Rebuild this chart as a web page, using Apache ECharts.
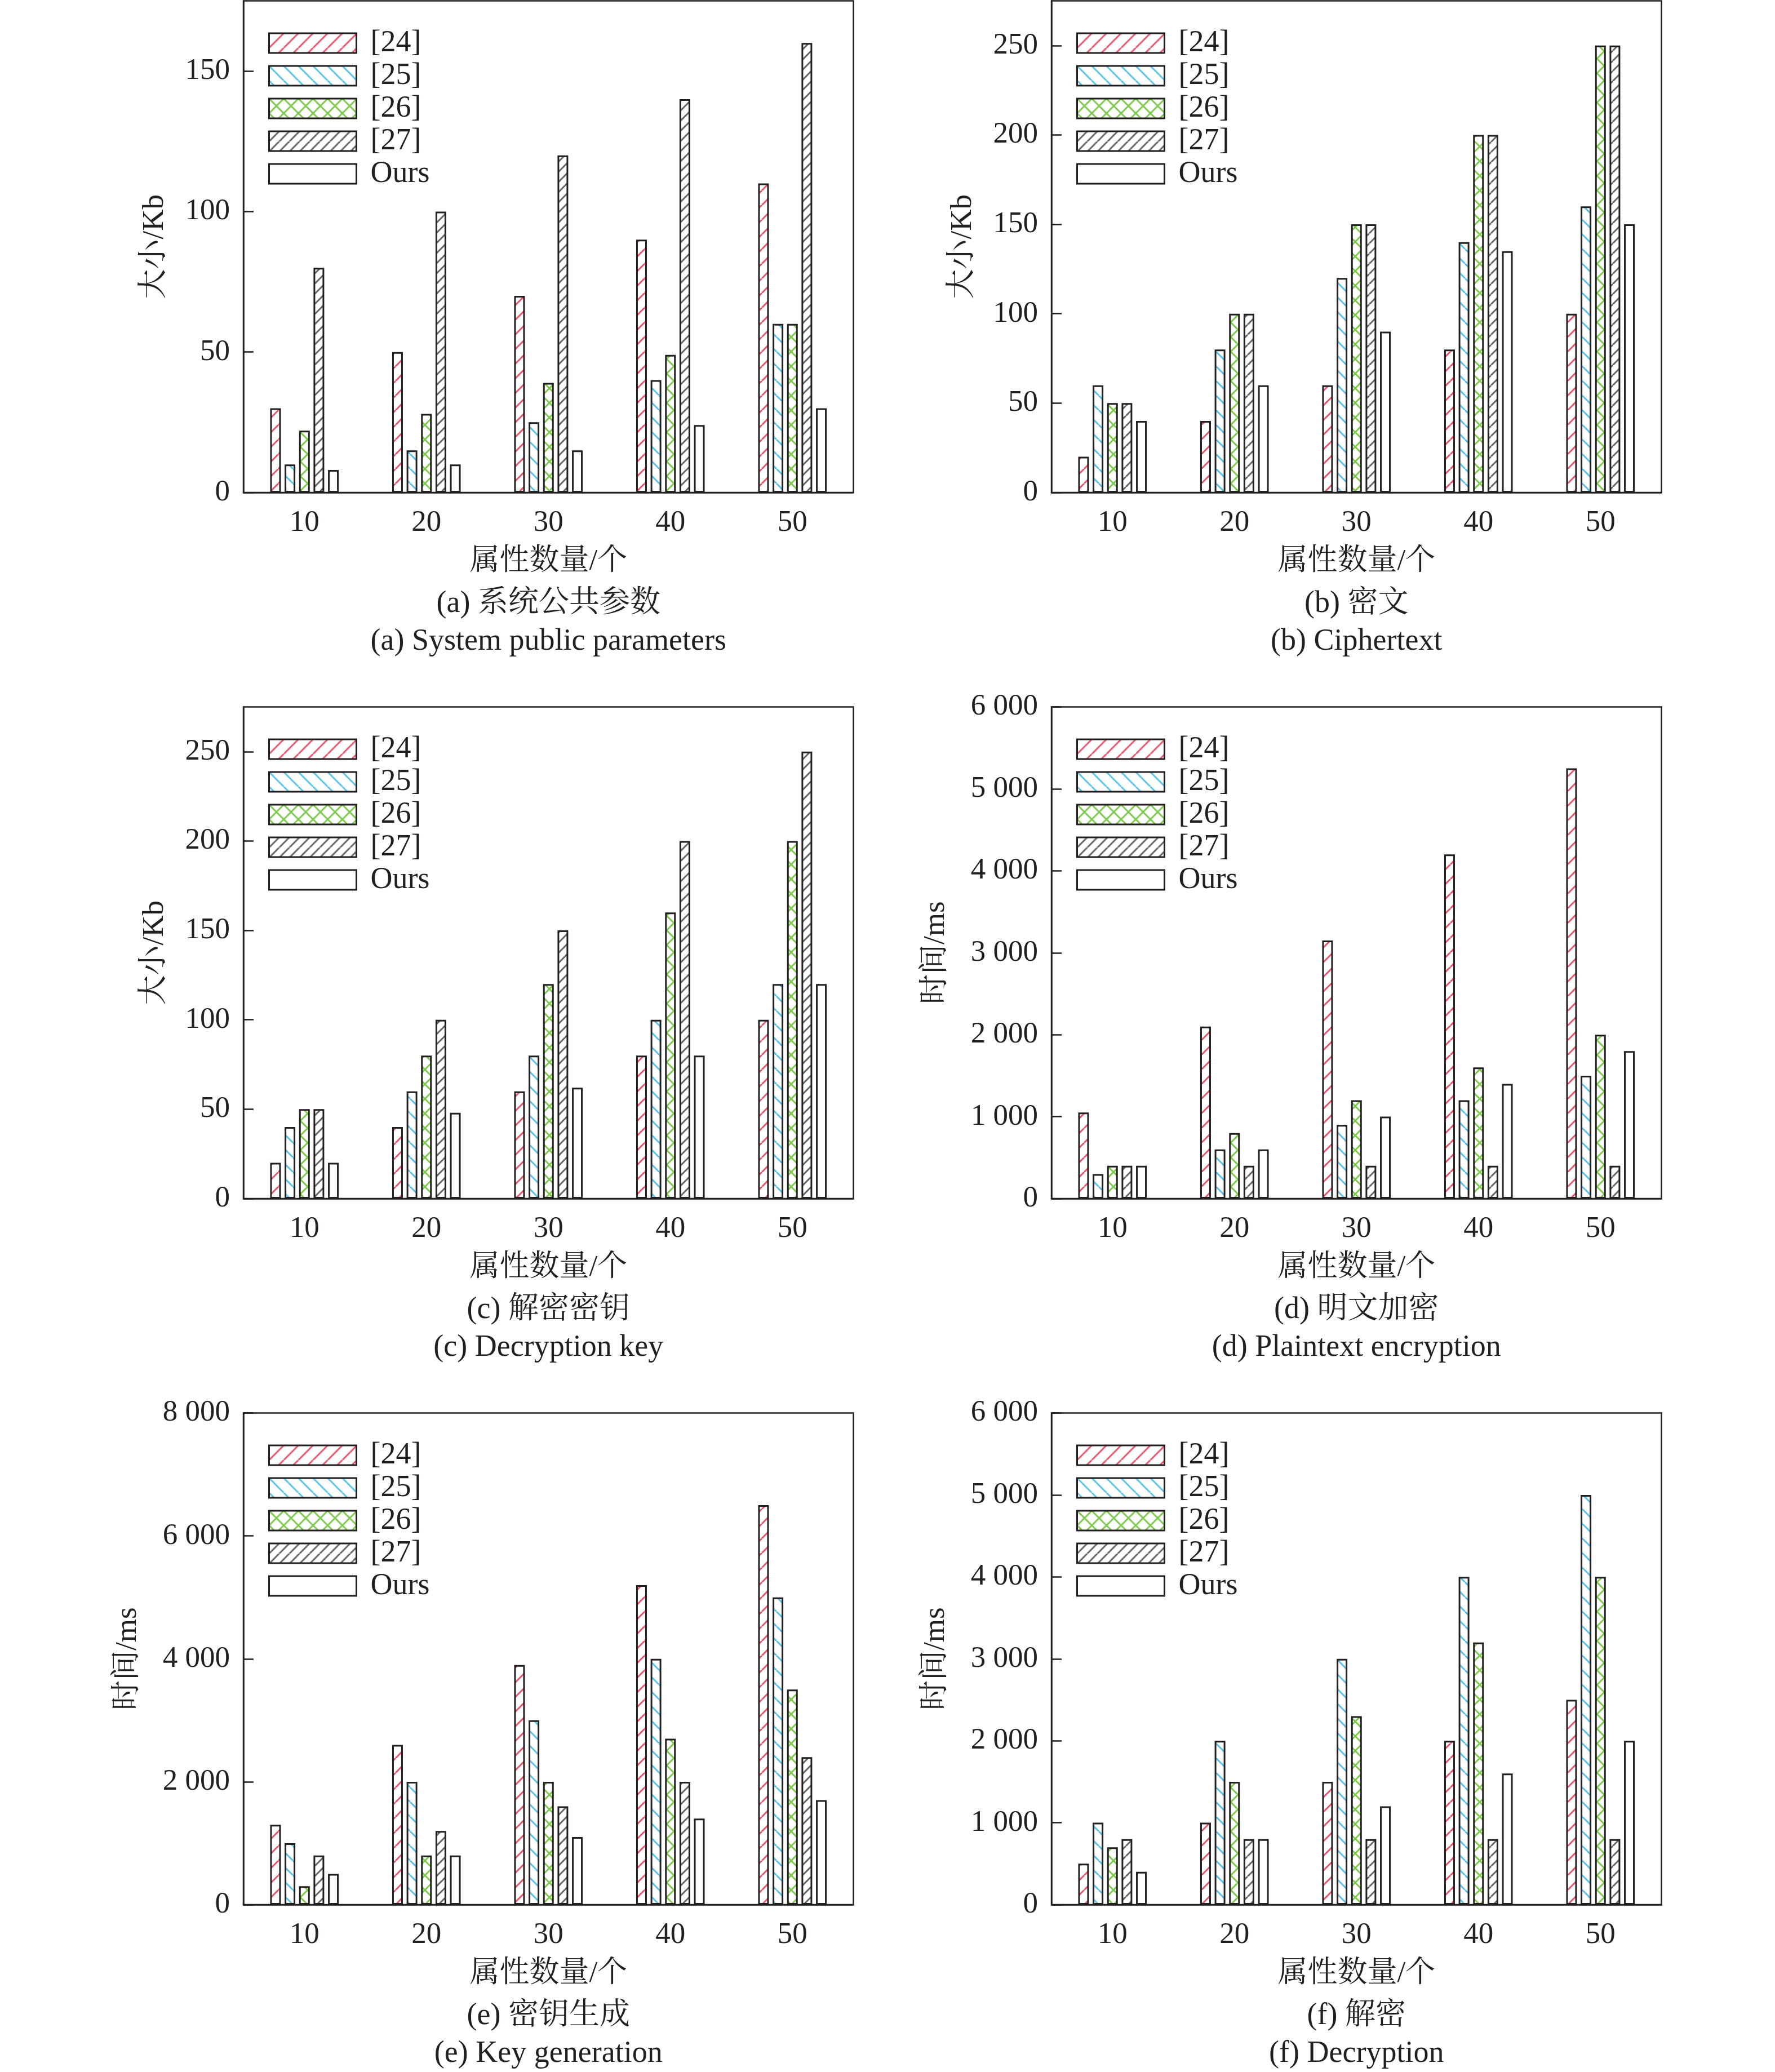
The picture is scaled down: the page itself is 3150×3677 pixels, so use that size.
<!DOCTYPE html>
<html>
<head>
<meta charset="utf-8">
<title>属性数量对比</title>
<script src="https://cdn.jsdelivr.net/npm/echarts@6/dist/echarts.min.js"></script>
<style>
html, body { margin: 0; padding: 0; background: #fff; }
#main { width: 3150px; height: 3677px; }
</style>
</head>
<body>
<div id="main"></div>
<script>
var categories = ['10', '20', '30', '40', '50'];
var seriesNames = ['[24]', '[25]', '[26]', '[27]', 'Ours'];

/** (a) 系统公共参数, Kb **/
var sysParams = [
	[30, 50, 70, 90, 110],
	[10, 15, 25, 40, 60],
	[22, 28, 39, 49, 60],
	[80, 100, 120, 140, 160],
	[8, 10, 15, 24, 30]
];
/** (b) 密文, Kb **/
var ciphertext = [
	[20, 40, 60, 80, 100],
	[60, 80, 120, 140, 160],
	[50, 100, 150, 200, 250],
	[50, 100, 150, 200, 250],
	[40, 60, 90, 135, 150]
];
/** (c) 解密密钥, Kb **/
var decKey = [
	[20, 40, 60, 80, 100],
	[40, 60, 80, 100, 120],
	[50, 80, 120, 160, 200],
	[50, 100, 150, 200, 250],
	[20, 48, 62, 80, 120]
];
/** (d) 明文加密, ms **/
var encTime = [
	[1050, 2100, 3150, 4200, 5250],
	[300, 600, 900, 1200, 1500],
	[400, 800, 1200, 1600, 2000],
	[400, 400, 400, 400, 400],
	[400, 600, 1000, 1400, 1800]
];
/** (e) 密钥生成, ms **/
var keyGenTime = [
	[1300, 2600, 3900, 5200, 6500],
	[1000, 2000, 3000, 4000, 5000],
	[300, 800, 2000, 2700, 3500],
	[800, 1200, 1600, 2000, 2400],
	[500, 800, 1100, 1400, 1700]
];
/** (f) 解密, ms **/
var decTime = [
	[500, 1000, 1500, 2000, 2500],
	[1000, 2000, 3000, 4000, 5000],
	[700, 1500, 2300, 3200, 4000],
	[800, 800, 800, 800, 800],
	[400, 800, 1200, 1600, 2000]
];

var yMax = [175, 275, 275, 6000, 8000, 6000];
var yStep = [50, 50, 50, 1000, 2000, 1000];
var yNames = ['大小/Kb', '大小/Kb', '大小/Kb', '时间/ms', '时间/ms', '时间/ms'];
var xName = '属性数量/个';
var captionsCn = ['(a) 系统公共参数', '(b) 密文', '(c) 解密密钥', '(d) 明文加密', '(e) 密钥生成', '(f) 解密'];
var captionsEn = ['(a) System public parameters', '(b) Ciphertext', '(c) Decryption key',
	'(d) Plaintext encryption', '(e) Key generation', '(f) Decryption'];

var panels = [sysParams, ciphertext, decKey, encTime, keyGenTime, decTime];

var INK = '#231f20';
var FONT = '"Liberation Serif", "Noto Serif CJK SC", "Noto Sans CJK SC", serif';

// 斜线填充
function hatch(color, step, kind) {
	var c = document.createElement('canvas');
	c.width = step;
	c.height = step;
	var g = c.getContext('2d');
	g.fillStyle = '#fff';
	g.fillRect(0, 0, step, step);
	g.strokeStyle = color;
	g.lineWidth = 3;
	g.beginPath();
	var k;
	if (kind === '/' || kind === 'x') {
		for (k = 0; k <= 2; k++) {
			g.moveTo(k * step, 0);
			g.lineTo(k * step - step, step);
		}
	}
	if (kind === '\\' || kind === 'x') {
		for (k = -1; k <= 1; k++) {
			g.moveTo(k * step, 0);
			g.lineTo(k * step + step, step);
		}
	}
	g.stroke();
	return { image: c, repeat: 'repeat' };
}

var fills = [
	hatch('#e8566c', 26, '/'),
	hatch('#5bc3e8', 26, '\\'),
	hatch('#7dc94c', 26, 'x'),
	hatch('#666666', 18, '/'),
	'#ffffff'
];

var colLeft = [432, 1866];
var rowTop = [1.5, 1254.5, 2507.5];
var gw = 1082.5, gh = 872.5;

function fmt(v) {
	var s = String(v);
	return v >= 1000 ? s.slice(0, s.length - 3) + ' ' + s.slice(-3) : s;
}

var grids = [], xAxes = [], yAxes = [], legends = [], titles = [], series = [];

for (var p = 0; p < 6; p++) {
	var gl = colLeft[p % 2];
	var gt = rowTop[Math.floor(p / 2)];
	var axisY = gt + gh;
	var cx = gl + gw / 2;

	grids.push({
		left: gl, top: gt, width: gw, height: gh,
		show: true, borderColor: INK, borderWidth: 2.5,
		containLabel: false, outerBoundsMode: 'none'
	});

	xAxes.push({
		type: 'category', gridIndex: p, data: categories,
		name: xName, nameLocation: 'middle', nameGap: 97,
		nameTextStyle: { fontSize: 53, fontFamily: FONT, color: INK },
		axisLine: { lineStyle: { color: INK, width: 2.5 } },
		axisTick: { show: false },
		axisLabel: { fontSize: 53, fontFamily: FONT, color: INK, margin: 28 },
		splitLine: { show: false }
	});

	yAxes.push({
		type: 'value', gridIndex: p, min: 0, max: yMax[p], interval: yStep[p],
		name: yNames[p], nameLocation: 'middle', nameGap: p < 3 ? 130 : 178,
		nameTextStyle: { fontSize: 53, fontFamily: FONT, color: INK },
		axisLine: { show: true, lineStyle: { color: INK, width: 2.5 } },
		axisTick: { show: true, inside: true, length: 18, lineStyle: { color: INK, width: 2.5 } },
		axisLabel: {
			fontSize: 53, fontFamily: FONT, color: INK, margin: 24,
			showMaxLabel: p >= 3, formatter: fmt
		},
		splitLine: { show: false }
	});

	legends.push({
		data: seriesNames, orient: 'vertical', left: gl + 44, top: gt + 48,
		icon: 'rect', itemWidth: 155, itemHeight: 35, itemGap: 4,
		selectedMode: false, padding: 0,
		itemStyle: { borderColor: INK, borderWidth: 3 },
		textStyle: { fontSize: 54, fontFamily: FONT, color: INK, lineHeight: 34, padding: [0, 0, 0, 20] }
	});

	titles.push({
		text: captionsCn[p], left: cx, top: axisY + 171, textAlign: 'center', padding: 0,
		textStyle: { fontSize: 54, fontWeight: 'normal', fontFamily: FONT, color: INK }
	});
	titles.push({
		text: captionsEn[p], left: cx, top: axisY + 238, textAlign: 'center', padding: 0,
		textStyle: { fontSize: 54, fontWeight: 'normal', fontFamily: FONT, color: INK }
	});

	for (var i = 0; i < 5; i++) {
		series.push({
			type: 'bar', name: seriesNames[i],
			xAxisIndex: p, yAxisIndex: p,
			data: panels[p][i],
			barWidth: 19, barGap: '35%',
			itemStyle: { color: fills[i], borderColor: INK, borderWidth: 3 },
			emphasis: { disabled: true }
		});
	}
}

var chart = echarts.init(document.getElementById('main'));
chart.setOption({
	animation: false,
	backgroundColor: '#fff',
	title: titles,
	legend: legends,
	grid: grids,
	xAxis: xAxes,
	yAxis: yAxes,
	series: series
});
</script>
</body>
</html>
